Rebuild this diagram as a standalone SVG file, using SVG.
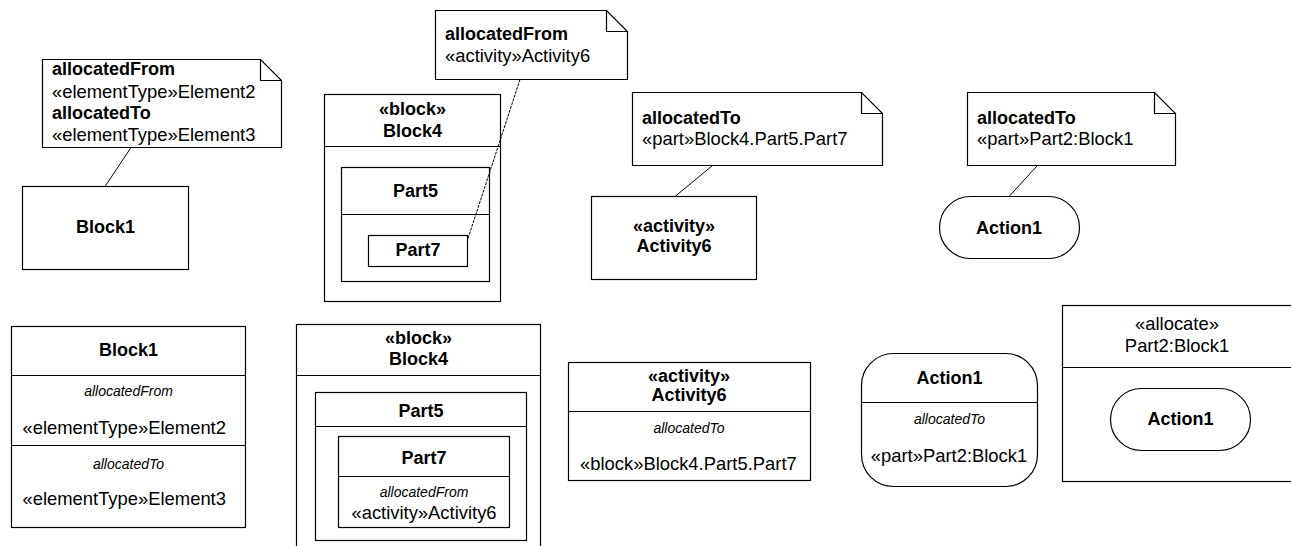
<svg xmlns="http://www.w3.org/2000/svg" width="1291" height="546" viewBox="0 0 1291 546">
<style>
  .sh { fill: #fff; stroke: #000; stroke-width: 1.2; }
  .ln { fill: none; stroke: #000; stroke-width: 1.2; }
  .cn { fill: none; stroke: #000; stroke-width: 1; }
  .dash { stroke-dasharray: 3 1; }
  text { font-family: "Liberation Sans", Arial, sans-serif; font-size: 18.4px; fill: #000; }
  .b { font-weight: bold; font-size: 18px; }
  .c { text-anchor: middle; }
  .i { font-style: italic; font-size: 14px; }
</style>
<rect x="0" y="0" width="1291" height="546" fill="#fff"/>

<g id="note1">
  <path class="sh" d="M42.5,59.5 H260.5 L281.5,80.5 V147.5 H42.5 Z"/>
  <path class="ln" d="M260.5,59.5 V80.5 H281.5"/>
  <text x="52" y="75" class="b">allocatedFrom</text>
  <text x="52" y="97.5">«elementType»Element2</text>
  <text x="52" y="118.5" class="b">allocatedTo</text>
  <text x="52" y="140.5">«elementType»Element3</text>
</g>

<g id="block1-top">
  <rect class="sh" x="22.5" y="186.5" width="166" height="83"/>
  <text x="105.5" y="233" class="b c">Block1</text>
</g>

<g id="note2">
  <path class="sh" d="M435.5,10.5 H606.5 L627.5,31.5 V79.5 H435.5 Z"/>
  <path class="ln" d="M606.5,10.5 V31.5 H627.5"/>
  <text x="445" y="40" class="b">allocatedFrom</text>
  <text x="445" y="62">«activity»Activity6</text>
</g>

<g id="block4-top">
  <rect class="sh" x="324.5" y="94.5" width="176" height="207"/>
  <line class="ln" x1="324.5" y1="146.5" x2="500.5" y2="146.5"/>
  <text x="412.5" y="115" class="b c">«block»</text>
  <text x="412.5" y="137" class="b c">Block4</text>
  <g id="part5-top">
    <rect class="sh" x="341.5" y="167.5" width="148" height="114"/>
    <line class="ln" x1="341.5" y1="214.5" x2="489.5" y2="214.5"/>
    <text x="415.5" y="197" class="b c">Part5</text>
    <g id="part7-top">
      <rect class="sh" x="368.5" y="235.5" width="99" height="31"/>
      <text x="418" y="256" class="b c">Part7</text>
    </g>
  </g>
</g>

<g id="note3">
  <path class="sh" d="M632.5,92.5 H861.5 L882.5,113.5 V165.5 H632.5 Z"/>
  <path class="ln" d="M861.5,92.5 V113.5 H882.5"/>
  <text x="642" y="123.5" class="b">allocatedTo</text>
  <text x="642" y="145">«part»Block4.Part5.Part7</text>
</g>

<g id="activity6-top">
  <rect class="sh" x="591.5" y="196.5" width="165" height="83"/>
  <text x="674" y="232" class="b c">«activity»</text>
  <text x="674" y="252" class="b c">Activity6</text>
</g>

<g id="note4">
  <path class="sh" d="M967.5,92.5 H1154.5 L1175.5,113.5 V165.5 H967.5 Z"/>
  <path class="ln" d="M1154.5,92.5 V113.5 H1175.5"/>
  <text x="977" y="123.5" class="b">allocatedTo</text>
  <text x="977" y="145">«part»Part2:Block1</text>
</g>

<g id="action1-top">
  <rect class="sh" x="939.5" y="196.5" width="140" height="62" rx="31" ry="31"/>
  <text x="1009" y="233.5" class="b c">Action1</text>
</g>

<g id="connectors">
  <line class="cn" x1="131" y1="147.5" x2="105" y2="186.5"/>
  <line class="cn dash" x1="520" y1="79.5" x2="467.5" y2="240"/>
  <line class="cn" x1="712.5" y1="165.5" x2="675" y2="196.5"/>
  <line class="cn" x1="1037.5" y1="165.5" x2="1009" y2="196.5"/>
</g>

<g id="block1-bottom">
  <rect class="sh" x="11.5" y="326.5" width="234" height="201"/>
  <line class="ln" x1="11.5" y1="375.5" x2="245.5" y2="375.5"/>
  <line class="ln" x1="11.5" y1="445.5" x2="245.5" y2="445.5"/>
  <text x="128.5" y="355.5" class="b c">Block1</text>
  <text x="128.5" y="396" class="i c">allocatedFrom</text>
  <text x="22.5" y="434">«elementType»Element2</text>
  <text x="128.5" y="468.5" class="i c">allocatedTo</text>
  <text x="22.5" y="505">«elementType»Element3</text>
</g>

<g id="block4-bottom">
  <rect class="sh" x="296.5" y="324.5" width="244" height="240"/>
  <line class="ln" x1="296.5" y1="375.5" x2="540.5" y2="375.5"/>
  <text x="418.5" y="343.5" class="b c">«block»</text>
  <text x="418.5" y="365" class="b c">Block4</text>
  <g id="part5-bottom">
    <rect class="sh" x="315.5" y="392.5" width="211" height="148"/>
    <line class="ln" x1="315.5" y1="426.5" x2="526.5" y2="426.5"/>
    <text x="421" y="416.5" class="b c">Part5</text>
    <g id="part7-bottom">
      <rect class="sh" x="338.5" y="436.5" width="171" height="91"/>
      <line class="ln" x1="338.5" y1="476.5" x2="509.5" y2="476.5"/>
      <text x="424" y="463.5" class="b c">Part7</text>
      <text x="424" y="496.5" class="i c">allocatedFrom</text>
      <text x="424" y="518.5" class="c">«activity»Activity6</text>
    </g>
  </g>
</g>

<g id="activity6-bottom">
  <rect class="sh" x="568.5" y="362.5" width="242" height="118"/>
  <line class="ln" x1="568.5" y1="411.5" x2="810.5" y2="411.5"/>
  <text x="689" y="381.5" class="b c">«activity»</text>
  <text x="689" y="401" class="b c">Activity6</text>
  <text x="689" y="432.5" class="i c">allocatedTo</text>
  <text x="580" y="470">«block»Block4.Part5.Part7</text>
</g>

<g id="action1-bottom">
  <rect class="sh" x="861.5" y="353.5" width="176" height="133" rx="32" ry="32"/>
  <line class="ln" x1="861.5" y1="402.5" x2="1037.5" y2="402.5"/>
  <text x="949.5" y="383.5" class="b c">Action1</text>
  <text x="949.5" y="423.5" class="i c">allocatedTo</text>
  <text x="949" y="461.5" class="c">«part»Part2:Block1</text>
</g>

<g id="allocate-partition">
  <rect class="sh" x="1062.5" y="305.5" width="250" height="176"/>
  <line class="ln" x1="1062.5" y1="367.5" x2="1312.5" y2="367.5"/>
  <text x="1177" y="330" class="c">«allocate»</text>
  <text x="1177" y="351.5" class="c">Part2:Block1</text>
  <g id="action1-in-partition">
    <rect class="sh" x="1110.5" y="388.5" width="140" height="62" rx="31" ry="31"/>
    <text x="1180.5" y="425" class="b c">Action1</text>
  </g>
</g>
</svg>
